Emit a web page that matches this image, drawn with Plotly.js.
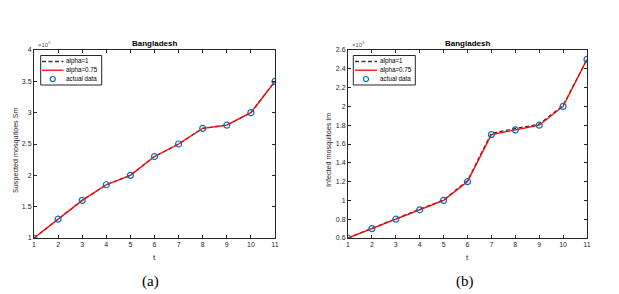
<!DOCTYPE html>
<html><head><meta charset="utf-8">
<script src="https://cdn.plot.ly/plotly-3.0.1.min.js"></script>
<style>html,body{margin:0;padding:0;background:#fff}#c{width:619px;height:294px}</style>
</head><body><div id="c"></div>
<script>
// data
var t = [1,2,3,4,5,6,7,8,9,10,11];
var smActual = [100000,130000,160000,185000,200000,230000,250000,275000,280000,300000,350000];
var smAlpha1 = [100000,130000,160000,185000,200000,230000,250000,275000,280000,300000,350000];
var smAlpha075 = [100000,130000,160000,185000,200000,230000,250000,275000,280000,300000,350000];
var imActual = [60000,70000,80000,90000,100000,120000,170000,175000,180000,200000,250000];
var imAlpha1 = [60000,70500,80500,90500,100500,121000,171500,176500,181000,201000,250000];
var imAlpha075 = [60000,70000,80000,90000,100000,120000,170000,175000,180000,200000,250000];
var xTicks = [1,2,3,4,5,6,7,8,9,10,11];
var smTickVals = [100000,150000,200000,250000,300000,350000,400000];
var smTickText = ['1','1.5','2','2.5','3','3.5','4'];
var imTickVals = [60000,80000,100000,120000,140000,160000,180000,200000,220000,240000,260000];
var imTickText = ['0.6','0.8','1','1.2','1.4','1.6','1.8','2','2.2','2.4','2.6'];
var names = ['alpha=1','alpha=0.75','actual data'];

var W=619,H=294;
var FONT='"Liberation Sans", Arial, sans-serif';
var BLUE='#0072BD', RED='#FF0000', DARK='#333333';
var DASH='4px,2.5px';
function lineTrace(x,y,nm,color,dash,xa,ya){
  return {x:x,y:y,name:nm,mode:'lines',type:'scatter',xaxis:xa,yaxis:ya,
    line:{color:color,width:1.3,dash:dash}};
}
function markTrace(x,y,nm,xa,ya){
  return {x:x,y:y,name:nm,mode:'markers',type:'scatter',xaxis:xa,yaxis:ya,
    marker:{symbol:'circle-open',size:6,color:BLUE,line:{width:1.2,color:BLUE}}};
}
var data = [
  lineTrace(t,smAlpha1,names[0],DARK,DASH,'x','y'),
  lineTrace(t,smAlpha075,names[1],RED,'solid','x','y'),
  markTrace(t,smActual,names[2],'x','y'),
  lineTrace(t,imAlpha1,names[0],DARK,DASH,'x2','y2'),
  lineTrace(t,imAlpha075,names[1],RED,'solid','x2','y2'),
  markTrace(t,imActual,names[2],'x2','y2')
];
var yDom=[(H-238)/H,(H-50)/H];
function xa(dom,anchor){
  return {domain:dom,anchor:anchor,range:[1,11],tickvals:xTicks,ticks:'inside',ticklen:3,tickcolor:'#262626',
    showline:true,linecolor:'#262626',linewidth:1,mirror:'ticks',showgrid:false,zeroline:false,
    tickfont:{family:FONT,size:7,color:'#262626'}};
}
function ya(vals,txt,anchor){
  return {domain:yDom,anchor:anchor,range:[vals[0],vals[vals.length-1]],tickvals:vals,ticktext:txt,ticks:'inside',ticklen:3,tickcolor:'#262626',
    showline:true,linecolor:'#262626',linewidth:1,mirror:'ticks',showgrid:false,zeroline:false,
    tickfont:{family:FONT,size:7,color:'#262626'}};
}
function px(v){return v/W;} function py(v){return 1-v/H;}
function ann(text,x,y,size,extra){
  var a={text:text,x:px(x),y:py(y),xref:'paper',yref:'paper',showarrow:false,
    font:{family:FONT,size:size,color:'#262626'},xanchor:'center',yanchor:'middle'};
  for(var k in extra)a[k]=extra[k];
  return a;
}
var shapes=[], anns=[];
// manual compact legends (MATLAB style)
function legend(x0,x1,y0,y1,sx0,sx1,tx,rows){
  shapes.push({type:'rect',xref:'paper',yref:'paper',x0:px(x0),x1:px(x1),y0:py(y1),y1:py(y0),
    line:{color:'#262626',width:1},fillcolor:'#fff',layer:'above'});
  shapes.push({type:'line',xref:'paper',yref:'paper',x0:px(sx0),x1:px(sx1),y0:py(rows[0]),y1:py(rows[0]),
    line:{color:DARK,width:1.3,dash:DASH},layer:'above'});
  shapes.push({type:'line',xref:'paper',yref:'paper',x0:px(sx0),x1:px(sx1),y0:py(rows[1]),y1:py(rows[1]),
    line:{color:RED,width:1.3},layer:'above'});
  var cx=(sx0+sx1)/2;
  shapes.push({type:'circle',xref:'paper',yref:'paper',x0:px(cx-2.5),x1:px(cx+2.5),y0:py(rows[2]+2.5),y1:py(rows[2]-2.5),
    line:{color:BLUE,width:1.2},layer:'above'});
  for(var i=0;i<3;i++){
    anns.push(ann(names[i],tx,rows[i],6.3,{xanchor:'left',borderpad:0,font:{family:FONT,size:6.3,color:'#000'}}));
  }
}
legend(40.7,101.7,55.5,85,42,63.5,65,[61.5,70.2,79]);
legend(353.3,415.3,55.5,85,355,377,378.5,[61.5,70.2,79]);
anns.push(
  ann('<b>Bangladesh</b>',154.5,43,8,{font:{family:FONT,size:8,color:'#000'}}),
  ann('<b>Bangladesh</b>',467.5,43,8,{font:{family:FONT,size:8,color:'#000'}}),
  ann('t',154.5,257,8,{}),
  ann('t',467.5,257,8,{}),
  ann('Suspected mosquitoes Sm',15,150,7.2,{textangle:-90}),
  ann('Infected mosquitoes Im',328,150,7.2,{textangle:-90}),
  ann('×10<sup>5</sup>',44,44,6,{font:{family:FONT,size:6,color:'#555'}}),
  ann('×10<sup>5</sup>',358,44,6,{font:{family:FONT,size:6,color:'#555'}}),
  ann('(a)',150,281,15,{font:{family:'"Liberation Serif", "Times New Roman", serif',size:15,color:'#000'}}),
  ann('(b)',465,281,15,{font:{family:'"Liberation Serif", "Times New Roman", serif',size:15,color:'#000'}})
);
var layout = {
  width:W,height:H,margin:{l:0,r:0,t:0,b:0},paper_bgcolor:'#fff',plot_bgcolor:'#fff',
  showlegend:false,
  xaxis:xa([34/W,275/W],'y'),
  yaxis:ya(smTickVals,smTickText,'x'),
  xaxis2:xa([348/W,587/W],'y2'),
  yaxis2:ya(imTickVals,imTickText,'x2'),
  shapes:shapes,
  annotations:anns
};
Plotly.newPlot('c',data,layout,{staticPlot:true,displayModeBar:false});
</script></body></html>
